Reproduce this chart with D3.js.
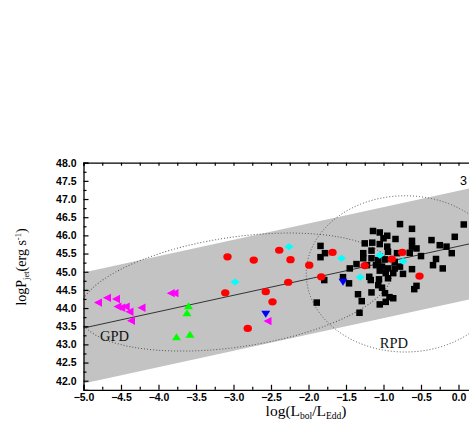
<!DOCTYPE html>
<html>
<head>
<meta charset="utf-8">
<script src="https://cdn.jsdelivr.net/npm/d3@7"></script>
<style>
  html, body { margin: 0; padding: 0; background: #fff; }
  svg { display: block; }
</style>
</head>
<body>
<script>
// ---------- data ----------
const blackSquares = [
  [-0.78,46.31],[-0.62,46.18],[0.07,46.30],[-1.14,46.12],[-1.05,46.08],[-0.95,45.99],
  [-1.00,45.92],[-0.84,45.90],[-0.62,45.85],[-0.36,45.87],[-0.05,45.96],[-1.84,45.71],
  [-1.25,45.78],[-1.15,45.80],[-1.05,45.76],[-0.95,45.69],[-0.62,45.69],[-0.56,45.64],
  [-0.25,45.73],[-0.16,45.69],[-1.78,45.51],[-1.84,45.40],[-1.27,45.51],[-1.16,45.58],
  [-0.94,45.55],[-0.82,45.51],[-0.65,45.52],[-0.50,45.43],[-0.09,45.51],[-1.27,45.37],
  [-1.16,45.37],[-1.07,45.32],[-0.98,45.34],[-0.85,45.27],[-0.30,45.35],[-1.36,45.21],
  [-1.45,45.09],[-1.22,45.18],[-1.10,45.18],[-1.02,45.14],[-0.94,45.09],[-0.85,45.09],
  [-0.78,45.14],[-0.62,45.07],[-0.34,45.18],[-0.21,45.09],[-1.05,45.03],[-0.97,44.96],
  [-0.87,44.96],[-0.74,44.94],[-1.19,44.86],[-1.17,44.77],[-1.06,44.79],[-0.94,44.82],
  [-1.79,44.77],[-1.54,44.85],[-1.46,44.68],[-1.02,44.56],[-0.56,44.61],[-0.59,44.52],
  [-1.16,44.43],[-1.34,44.38],[-0.98,44.41],[-0.92,44.30],[-0.87,44.27],[-1.29,44.19],
  [-0.97,44.17],[-1.05,44.10],[-1.89,44.15],[-1.32,43.87],[-1.07,44.63]
];
const redCircles = [
  [-3.08,45.41],[-2.73,45.32],[-2.39,45.59],[-2.24,45.33],[-3.11,44.42],[-2.57,44.45],
  [-2.48,44.17],[-2.27,44.71],[-2.81,43.44],[-1.99,45.18],[-1.68,45.53],[-1.83,44.86],
  [-1.25,45.17],[-0.89,45.35],[-0.75,45.53],[-0.52,44.88]
];
const cyanDiamonds = [
  [-2.26,45.69],[-2.98,44.72],[-1.56,45.37],[-1.05,45.45],[-0.74,45.29],[-1.31,44.85]
];
const blueDown = [[-2.57,43.83],[-1.54,44.71]];
const magentaLeft = [
  [-4.80,44.15],[-4.68,44.28],[-4.56,44.25],[-4.54,44.04],[-4.49,44.01],[-4.43,44.04],
  [-4.38,43.90],[-4.22,44.01],[-4.36,43.65],[-3.83,44.41],[-3.78,44.41],[-2.54,43.64]
];
const greenUp = [[-3.60,44.06],[-3.62,43.87],[-3.76,43.21],[-3.58,43.28]];

// fit line and band: y = fitA + fitB*(x+5), band +/- bandHalf
const fitA = 43.45, fitB = 0.45, bandHalf = 1.53;
const fitX = [-5, 0.3];
// ellipses (data-unit centres and radii, rotation in degrees)
const gpd = {cx: -2.97, cy: 44.44, rx: 2.11, ry: 1.51, rot: -8.4, label: "GPD", lx: -4.78, ly: 43.09};
const rpd = {cx: -0.71, cy: 44.94, rx: 1.32, ry: 2.15, rot: 0, label: "RPD", lx: -1.05, ly: 42.90};

const xMajor = d3.range(-5, 0.01, 0.5);
const xMinorAll = d3.range(-5, 0.3, 0.25);
const yMajor = d3.range(42, 48.01, 0.5);
const yMinor = d3.range(42.25, 48, 0.5);

// ---------- drawing ----------
const W = 469, H = 436;
const svg = d3.select("body").append("svg").attr("width", W).attr("height", H)
  .style("background", "#fff");

const x = d3.scaleLinear().domain([-5, 0.3]).range([83.5, 481]);
const y = d3.scaleLinear().domain([41.75, 48]).range([389.8, 162.7]);

svg.append("defs").append("clipPath").attr("id", "clip")
  .append("rect").attr("x", x(-5)).attr("y", y(48)).attr("width", x(0.3) - x(-5)).attr("height", y(41.75) - y(48));

const plot = svg.append("g").attr("clip-path", "url(#clip)");
const fit = v => fitA + fitB * (v + 5);

// band
const bandPts = [[fitX[0], fit(fitX[0]) + bandHalf], [fitX[1], fit(fitX[1]) + bandHalf],
                 [fitX[1], fit(fitX[1]) - bandHalf], [fitX[0], fit(fitX[0]) - bandHalf]];
plot.append("path")
  .attr("d", d3.line().x(d => x(d[0])).y(d => y(d[1]))(bandPts) + "Z")
  .attr("fill", "#c3c3c3");

// ellipses
[gpd, rpd].forEach(e => {
  const cx = x(e.cx), cy = y(e.cy);
  plot.append("ellipse")
    .attr("cx", cx).attr("cy", cy)
    .attr("rx", x(e.cx + e.rx) - cx).attr("ry", cy - y(e.cy + e.ry))
    .attr("transform", `rotate(${e.rot},${cx},${cy})`)
    .attr("fill", "none").attr("stroke", "#555").attr("stroke-width", 1)
    .attr("stroke-dasharray", "1,2");
  svg.append("text").attr("x", x(e.lx)).attr("y", y(e.ly))
    .attr("font-family", "'Liberation Serif', 'Times New Roman', serif")
    .attr("font-size", 14.5).attr("fill", "#111").text(e.label);
});

// fit line
plot.append("path")
  .attr("d", d3.line().x(d => x(d)).y(d => y(fit(d)))(fitX))
  .attr("stroke", "#333").attr("stroke-width", 1).attr("fill", "none");

// markers
const sq = 6.5;
plot.selectAll(".sq").data(blackSquares).join("rect")
  .attr("x", d => x(d[0]) - sq / 2).attr("y", d => y(d[1]) - sq / 2)
  .attr("width", sq).attr("height", sq).attr("fill", "#000");

plot.selectAll(".rc").data(redCircles).join("ellipse")
  .attr("cx", d => x(d[0])).attr("cy", d => y(d[1]))
  .attr("rx", 4.2).attr("ry", 3.6).attr("fill", "#ff0000");

const diamond = "M0,-3.5L4.5,0L0,3.5L-4.5,0Z";
plot.selectAll(".cd").data(cyanDiamonds).join("path")
  .attr("d", diamond).attr("transform", d => `translate(${x(d[0])},${y(d[1])})`)
  .attr("fill", "#00ffff");

const down = "M-4.5,-3.5L4.5,-3.5L0,3.5Z";
plot.selectAll(".bd").data(blueDown).join("path")
  .attr("d", down).attr("transform", d => `translate(${x(d[0])},${y(d[1])})`)
  .attr("fill", "#0000ff");

const left = "M-4.5,0L3.5,-4.2L3.5,4.2Z";
plot.selectAll(".ml").data(magentaLeft).join("path")
  .attr("d", left).attr("transform", d => `translate(${x(d[0])},${y(d[1])})`)
  .attr("fill", "#ff00ff");

const up = "M-4.5,3.5L4.5,3.5L0,-3.5Z";
plot.selectAll(".gu").data(greenUp).join("path")
  .attr("d", up).attr("transform", d => `translate(${x(d[0])},${y(d[1])})`)
  .attr("fill", "#00ff00");

// axes
const tickFont = "'Liberation Sans', Arial, sans-serif";
const fmt = d3.format(".1f");
const fmtLab = v => fmt(v).replace("-0.0", "0.0");

svg.append("g").attr("transform", `translate(${x(-5)},0)`)
  .call(d3.axisLeft(y).tickValues(yMajor).tickSize(-5).tickPadding(7).tickFormat(fmtLab));
svg.append("g").attr("transform", `translate(${x(-5)},0)`)
  .call(d3.axisLeft(y).tickValues(yMinor).tickSize(-3).tickFormat(""))
  .select(".domain").remove();

svg.append("g").attr("transform", `translate(0,${y(41.75)})`)
  .call(d3.axisBottom(x).tickValues(xMajor).tickSize(-5).tickPadding(4).tickFormat(fmtLab));
svg.append("g").attr("transform", `translate(0,${y(41.75)})`)
  .call(d3.axisBottom(x).tickValues(xMinorAll.filter(v => Math.abs(v * 2 - Math.round(v * 2)) > 0.01)).tickSize(-3).tickFormat(""))
  .select(".domain").remove();

svg.append("g").attr("transform", `translate(0,${y(48)})`)
  .call(d3.axisTop(x).tickValues(xMinorAll).tickSize(-3).tickFormat(""));

svg.selectAll(".domain").attr("stroke", "#000").attr("stroke-width", 1.3);
svg.selectAll(".tick line").attr("stroke", "#000").attr("stroke-width", 1.2);
svg.selectAll(".tick text").attr("font-family", tickFont).attr("font-weight", "bold")
  .attr("font-size", 10.5).attr("fill", "#000");

// axis titles
const serif = "'Liberation Serif', 'Times New Roman', serif";
const xt = svg.append("text").attr("x", 306).attr("y", 416).attr("text-anchor", "middle")
  .attr("font-family", serif).attr("font-size", 15.5).attr("fill", "#000");
xt.append("tspan").text("log(L");
xt.append("tspan").attr("font-size", 9.5).attr("dy", 2.5).text("bol");
xt.append("tspan").attr("dy", -2.5).text("/L");
xt.append("tspan").attr("font-size", 9.5).attr("dy", 2.5).text("Edd");
xt.append("tspan").attr("dy", -2.5).text(")");

const yt = svg.append("text").attr("transform", "translate(26,267) rotate(-90)")
  .attr("text-anchor", "middle").attr("font-family", serif).attr("font-size", 14).attr("fill", "#000");
yt.append("tspan").text("logP");
yt.append("tspan").attr("font-size", 8.5).attr("dy", 3).text("jet");
yt.append("tspan").attr("dy", -3).text("(erg s");
yt.append("tspan").attr("font-size", 8.5).attr("dy", -5.5).text("-1");
yt.append("tspan").attr("dy", 5.5).text(")");

svg.append("text").attr("x", 460).attr("y", 185)
  .attr("font-family", tickFont).attr("font-size", 12.5).attr("fill", "#000").text("3");
</script>
</body>
</html>
